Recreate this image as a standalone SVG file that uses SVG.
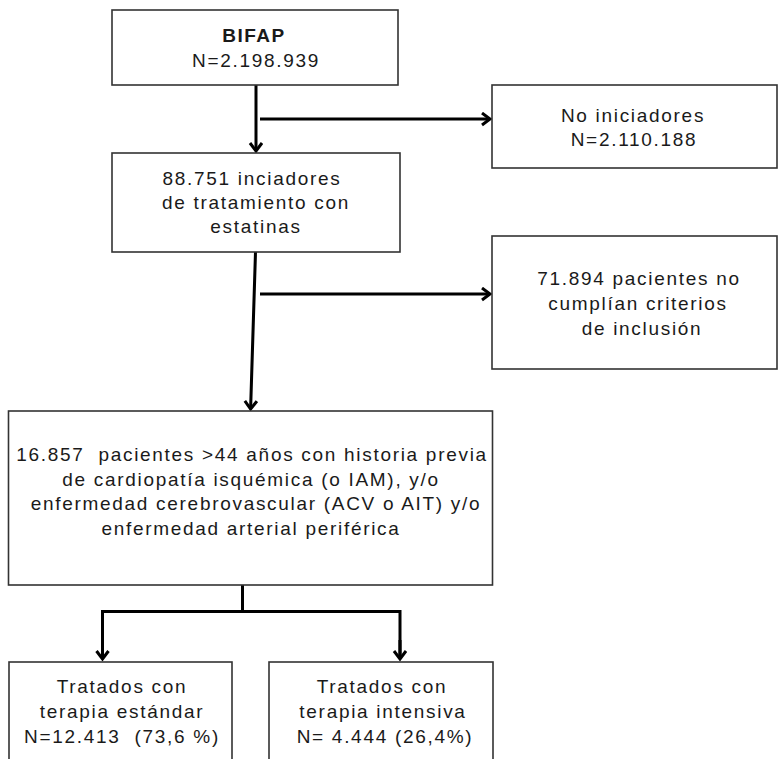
<svg xmlns="http://www.w3.org/2000/svg" width="780" height="759" viewBox="0 0 780 759">
<style>
  .box { fill: #ffffff; stroke: #333333; stroke-width: 1.6; }
  .t { font-family: "Liberation Sans", Arial, sans-serif; font-size: 19px; fill: #1a1a1a; text-anchor: middle; letter-spacing: 1.7px; }
  .b { font-weight: bold; letter-spacing: 1.5px; }
  .c { fill: none; stroke: #000000; stroke-width: 3; }
</style>
<defs>
  <marker id="arr" markerUnits="userSpaceOnUse" markerWidth="14" markerHeight="16" refX="10" refY="7" orient="auto">
    <path d="M2,1 L10,7 L2,13" fill="none" stroke="#000000" stroke-width="3" stroke-linejoin="miter"/>
  </marker>
</defs>
<rect width="780" height="759" fill="#ffffff"/>

<g id="connectors">
  <line class="c" x1="256" y1="85" x2="256" y2="151" marker-end="url(#arr)"/>
  <line class="c" x1="260" y1="119" x2="490" y2="119" marker-end="url(#arr)"/>
  <line class="c" x1="255.5" y1="252" x2="250.6" y2="409" marker-end="url(#arr)"/>
  <line class="c" x1="260" y1="294" x2="490" y2="294" marker-end="url(#arr)"/>
  <polyline class="c" points="242.5,585 242.5,611.5" />
  <polyline class="c" points="102.5,659 102.5,611.5 400,611.5 400,659" />
  <line class="c" x1="102.5" y1="640" x2="102.5" y2="659" marker-end="url(#arr)"/>
  <line class="c" x1="400" y1="640" x2="400" y2="659" marker-end="url(#arr)"/>
</g>

<g id="n-bifap">
  <rect class="box" x="112" y="10" width="286" height="75"/>
  <text class="t b" x="254" y="42">BIFAP</text>
  <text class="t" x="256" y="67">N=2.198.939</text>
</g>

<g id="n-iniciadores">
  <rect class="box" x="112" y="153" width="288" height="99"/>
  <text class="t" x="252" y="185">88.751 inciadores</text>
  <text class="t" x="256" y="209">de tratamiento con</text>
  <text class="t" x="256" y="233">estatinas</text>
</g>

<g id="n-no-iniciadores">
  <rect class="box" x="492" y="85" width="285" height="83"/>
  <text class="t" x="633" y="122">No iniciadores</text>
  <text class="t" x="634" y="146">N=2.110.188</text>
</g>

<g id="n-no-criterios">
  <rect class="box" x="492" y="236" width="285" height="133"/>
  <text class="t" x="639" y="285">71.894 pacientes no</text>
  <text class="t" x="638" y="310">cumplían criterios</text>
  <text class="t" x="642" y="335">de inclusión</text>
</g>

<g id="n-pacientes">
  <rect class="box" x="8.5" y="411" width="484" height="174"/>
  <text class="t" x="252" y="461" xml:space="preserve">16.857  pacientes &gt;44 años con historia previa</text>
  <text class="t" x="251" y="485.5">de cardiopatía isquémica (o IAM), y/o</text>
  <text class="t" x="256" y="510">enfermedad cerebrovascular (ACV o AIT) y/o</text>
  <text class="t" x="251" y="534.5">enfermedad arterial periférica</text>
</g>

<g id="n-estandar">
  <rect class="box" x="9" y="662" width="223" height="110"/>
  <text class="t" x="122" y="693">Tratados con</text>
  <text class="t" x="122" y="718">terapia estándar</text>
  <text class="t" x="122" y="743" xml:space="preserve">N=12.413  (73,6 %)</text>
</g>

<g id="n-intensiva">
  <rect class="box" x="269" y="662" width="224" height="110"/>
  <text class="t" x="382" y="693">Tratados con</text>
  <text class="t" x="383" y="718">terapia intensiva</text>
  <text class="t" x="385" y="743">N= 4.444 (26,4%)</text>
</g>
</svg>
